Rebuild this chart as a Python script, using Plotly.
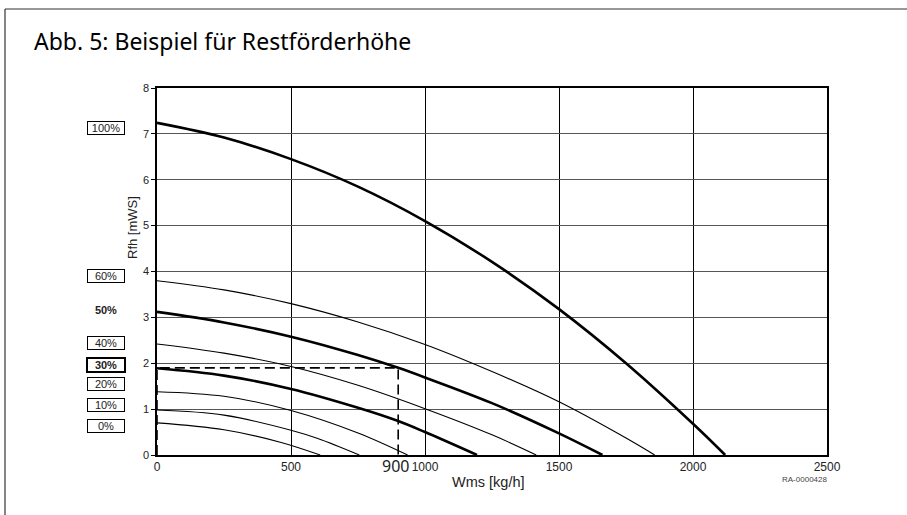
import plotly.graph_objects as go

# ---- data ----
curve_names = ["100%", "60%", "50%", "40%", "30%", "20%", "10%", "0%"]
x_100 = [0, 250, 500, 750, 1000, 1250, 1500, 1750, 2000, 2120]
y_100 = [7.24, 6.92, 6.45, 5.85, 5.10, 4.21, 3.18, 2.00, 0.68, 0.0]
x_60 = [0, 250, 500, 750, 1000, 1250, 1500, 1750, 1857]
y_60 = [3.80, 3.60, 3.30, 2.90, 2.41, 1.82, 1.16, 0.37, 0.0]
x_50 = [0, 250, 500, 750, 900, 1000, 1250, 1500, 1662]
y_50 = [3.12, 2.89, 2.58, 2.18, 1.90, 1.69, 1.13, 0.47, 0.0]
x_40 = [0, 250, 500, 750, 1000, 1250, 1415]
y_40 = [2.42, 2.22, 1.93, 1.52, 1.01, 0.44, 0.0]
x_30 = [0, 250, 500, 750, 900, 1000, 1194]
y_30 = [1.89, 1.73, 1.44, 1.03, 0.74, 0.50, 0.0]
x_20 = [0, 250, 500, 750, 935]
y_20 = [1.38, 1.28, 0.97, 0.48, 0.0]
x_10 = [0, 250, 500, 600, 755]
y_10 = [0.98, 0.87, 0.54, 0.36, 0.0]
x_0 = [0, 250, 460, 609]
y_0 = [0.70, 0.55, 0.28, 0.0]

# operating point example
op_x = 900
op_y = 1.90

x_ticks = [0, 500, 1000, 1500, 2000, 2500]
y_ticks = [0, 1, 2, 3, 4, 5, 6, 7, 8]

# label boxes on the left (text, y value, bold, boxed)
label_text = ["100%", "60%", "50%", "40%", "30%", "20%", "10%", "0%"]
label_y = [7.13, 3.91, 3.15, 2.44, 1.97, 1.54, 1.09, 0.63]
label_bold = [False, False, True, False, True, False, False, False]
label_box = [True, True, False, True, True, True, True, True]

# ---- figure ----
series = [
    (x_100, y_100, 2.6), (x_60, y_60, 1.1), (x_50, y_50, 2.6), (x_40, y_40, 1.1),
    (x_30, y_30, 2.6), (x_20, y_20, 1.1), (x_10, y_10, 1.1), (x_0, y_0, 1.1),
]

fig = go.Figure()
for name, (xs, ys, w) in zip(curve_names, series):
    fig.add_trace(go.Scatter(x=xs, y=ys, mode="lines", name=name,
                             line=dict(color="black", width=w, shape="spline", smoothing=1.0),
                             hoverinfo="skip", showlegend=False))

# dashed guide lines
fig.add_trace(go.Scatter(x=[0, 0, op_x, op_x], y=[0, op_y, op_y, 0], mode="lines",
                         line=dict(color="black", width=1.6, dash="10px,5px"),
                         hoverinfo="skip", showlegend=False))

L, R, T, B = 157, 80, 88, 60
W, H = 907, 515
pw = W - L - R
ph = H - T - B

def px_x(p):
    return (p - L) / pw

def px_y(p):
    return (H - B - p) / ph

annotations = []
for t, yv, bold, box in zip(label_text, label_y, label_bold, label_box):
    annotations.append(dict(
        x=px_x(105.5), xref="paper", y=yv, yref="y", xanchor="center", yanchor="middle",
        text=("<b>%s</b>" % t) if bold else t, showarrow=False,
        font=dict(family="Liberation Sans, Arial, sans-serif", size=11, color="#222"),
        bordercolor="black" if box else "rgba(0,0,0,0)",
        borderwidth=(2 if bold else 1) if box else 0,
        borderpad=0, width=36, height=12, bgcolor="white" if box else "rgba(0,0,0,0)",
    ))

annotations.append(dict(x=op_x, xref="x", xshift=-3, y=px_y(466), yref="paper", text=str(op_x),
                        showarrow=False, xanchor="center", yanchor="middle",
                        font=dict(family="Noto Sans, sans-serif", size=16, color="#222")))
annotations.append(dict(x=px_x(132), xref="paper", y=px_y(228), yref="paper", text="Rfh [mWS]",
                        textangle=-90, showarrow=False, xanchor="center", yanchor="middle",
                        font=dict(family="Liberation Sans, Arial, sans-serif", size=13, color="#222")))
annotations.append(dict(x=px_x(488), xref="paper", y=px_y(482), yref="paper", text="Wms [kg/h]",
                        showarrow=False, xanchor="center", yanchor="middle",
                        font=dict(family="Liberation Sans, Arial, sans-serif", size=14.5, color="#222")))
annotations.append(dict(x=px_x(804), xref="paper", y=px_y(479), yref="paper", text="RA-0000428",
                        showarrow=False, xanchor="center", yanchor="middle",
                        font=dict(family="Liberation Sans, Arial, sans-serif", size=8, color="#444")))

shapes = [
    dict(type="line", xref="paper", yref="paper", x0=px_x(5), x1=px_x(5), y0=px_y(9), y1=px_y(530),
         line=dict(color="#333", width=1.2)),
    dict(type="line", xref="paper", yref="paper", x0=px_x(5), x1=px_x(920), y0=px_y(9), y1=px_y(9),
         line=dict(color="#333", width=1.2)),
]

fig.update_layout(
    width=W, height=H,
    margin=dict(l=L, r=R, t=T, b=B, autoexpand=False),
    paper_bgcolor="white", plot_bgcolor="white",
    title=dict(text="Abb. 5: Beispiel für Restförderhöhe", x=34 / W, xanchor="left",
               y=1 - 42 / H, yanchor="middle", xref="container", yref="container",
               font=dict(family="Noto Sans, sans-serif", size=23, color="black")),
    annotations=annotations, shapes=shapes,
)
fig.update_xaxes(range=[0, 2500], tickvals=x_ticks, ticktext=[str(v) for v in x_ticks],
                 showgrid=True, gridcolor="black", gridwidth=1, zeroline=False,
                 showline=True, linecolor="black", linewidth=1.5, mirror=True, ticks="",
                 tickfont=dict(family="Liberation Sans, Arial, sans-serif", size=12, color="#222"))
fig.update_yaxes(range=[0, 8], tickvals=y_ticks, ticktext=[str(v) for v in y_ticks],
                 showgrid=True, gridcolor="#555", gridwidth=1, zeroline=False,
                 showline=True, linecolor="black", linewidth=1.5, mirror=True,
                 ticks="outside", ticklen=4, tickcolor="black",
                 tickfont=dict(family="Liberation Sans, Arial, sans-serif", size=11, color="#222"))

fig.write_html("out.html", config={"displayModeBar": False},
               post_script="document.body.style.margin='0';")
